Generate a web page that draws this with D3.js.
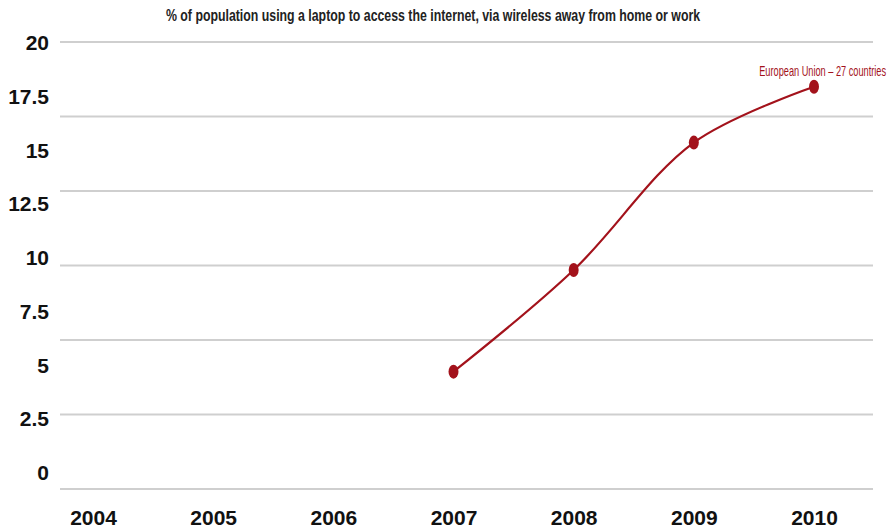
<!DOCTYPE html>
<html><head><meta charset="utf-8">
<script src="https://cdn.jsdelivr.net/npm/d3@7"></script>
<style>body{margin:0;background:#fff}</style>
</head><body>
<svg id="c" width="894" height="530"></svg>
<script>
const years = ["2004","2005","2006","2007","2008","2009","2010"];
const values = [null, null, null, 5.25, 9.8, 15.5, 18.0];
const yTickLabels = [0, 2.5, 5, 7.5, 10, 12.5, 15, 17.5, 20];
const gridCount = 6;
const title = "% of population using a laptop to access the internet, via wireless away from home or work";
const seriesName = "European Union \u2013 27 countries";

const svg = d3.select("#c");
const red = "#a3121b";
const x = d3.scalePoint().domain(years).range([93, 814]);
const y = d3.scaleLinear().domain([0, 20]).range([489, 42]);
const yLab = d3.scaleLinear().domain([0, 20]).range([472, 42]);

// gridlines
const gridVals = d3.range(gridCount + 1).map(i => i * 20 / gridCount);
svg.append("g").selectAll("line").data(gridVals).join("line")
  .attr("x1", 60).attr("x2", 873)
  .attr("y1", d => y(d)).attr("y2", d => y(d))
  .attr("stroke", "#cfcfcf").attr("stroke-width", 2);

// y labels
const yAxis = d3.axisLeft(yLab).tickValues(yTickLabels).tickSize(0).tickPadding(0)
  .tickFormat(d => String(d));
const gy = svg.append("g").attr("transform", "translate(49,0)").call(yAxis);
gy.select(".domain").remove();
gy.selectAll("text").attr("font-family", "Liberation Sans, Arial, sans-serif")
  .attr("font-weight", "bold").attr("font-size", 21).attr("fill", "#111").attr("dy", "0.36em");

// x labels
const xAxis = d3.axisBottom(x).tickSize(0).tickPadding(0);
const gx = svg.append("g").attr("transform", "translate(0,517)").call(xAxis);
gx.select(".domain").remove();
gx.selectAll("text").attr("font-family", "Liberation Sans, Arial, sans-serif")
  .attr("font-weight", "bold").attr("font-size", 21).attr("fill", "#111").attr("dy", "0.36em");

// line
const pts = years.map((yr, i) => ({yr, v: values[i]})).filter(d => d.v != null);
const line = d3.line().x(d => x(d.yr)).y(d => y(d.v)).curve(d3.curveCatmullRom.alpha(0.5));
svg.append("path").datum(pts).attr("d", line).attr("fill", "none")
  .attr("stroke", red).attr("stroke-width", 2.2);
svg.append("g").selectAll("ellipse").data(pts).join("ellipse")
  .attr("cx", d => x(d.yr)).attr("cy", d => y(d.v)).attr("rx", 5).attr("ry", 7)
  .attr("fill", red);

// condensed text helper: scale horizontally to a target width
function condensed(str, cx, cy, anchor, size, weight, fill, targetW) {
  const g = svg.append("g");
  const t = g.append("text").attr("text-anchor", anchor)
    .attr("font-family", "Liberation Sans, Arial, sans-serif")
    .attr("font-weight", weight).attr("font-size", size).attr("fill", fill)
    .text(str);
  const w = t.node().getComputedTextLength();
  const s = targetW / w;
  g.attr("transform", `translate(${cx},${cy}) scale(${s},1)`);
}

condensed(seriesName, 886, 76, "end", 14, "normal", red, 127);
condensed(title, 433, 21, "middle", 16, "bold", "#222", 535);
</script>
</body></html>
